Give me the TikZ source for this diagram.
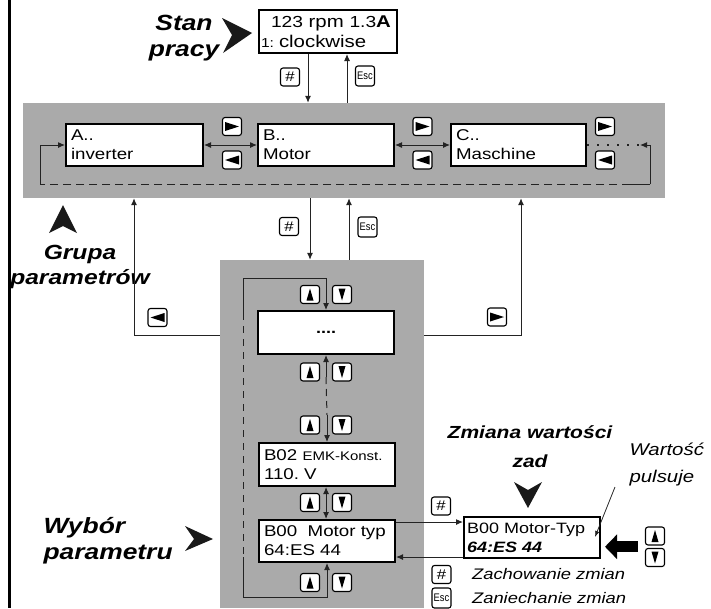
\documentclass[tikz,border=0pt]{standalone}
\usepackage{fontspec}
\setmainfont{Liberation Sans}[FakeStretch=1.2]
\newfontfamily\condfont{Liberation Sans}[FakeStretch=0.85]
\usetikzlibrary{arrows.meta,calc,positioning}

\definecolor{panelgray}{RGB}{170,170,170}
\definecolor{wiregray}{RGB}{35,35,35}
\newcommand{\fsz}[2]{\fontsize{#1}{#2}\selectfont}

\tikzset{
  lcd/.style={draw, line width=2pt, fill=white, inner xsep=5pt, inner ysep=0pt, align=left, font={\fsz{15.6}{19}}},
  panel/.style={fill=panelgray, inner sep=0pt},
  keybox/.style={draw, line width=1.1pt, rounded corners=2.5pt, fill=white, minimum width=19pt, minimum height=18pt, inner sep=0pt},
  keyup/.style={keybox, path picture={\fill[black, sharp corners] ($(path picture bounding box.center)+(0,-6)$) -- ++(3.5,12) -- ++(-7,0) -- cycle;}},
  keydown/.style={keybox, path picture={\fill[black, sharp corners] ($(path picture bounding box.center)+(0,6)$) -- ++(3.5,-12) -- ++(-7,0) -- cycle;}},
  keyright/.style={keybox, path picture={\fill[black, sharp corners] ($(path picture bounding box.center)+(7,0)$) -- ++(-14,-4.5) -- ++(0,9) -- cycle;}},
  keyleft/.style={keybox, path picture={\fill[black, sharp corners] ($(path picture bounding box.center)+(-7,0)$) -- ++(14,-4.5) -- ++(0,9) -- cycle;}},
  keyhash/.style={keybox, font={\fsz{14}{14}}},
  keyesc/.style={keybox, minimum height=20pt, font={\condfont\fsz{11}{11}}},
  wire/.style={draw=wiregray, line width=1pt},
  dashwire/.style={wire, dash pattern=on 8pt off 5pt},
  pointer/.style={fill=black!90},
  bigtitle/.style={font={\fsz{22}{26}\bfseries\itshape}, align=center},
  note/.style={font={\fsz{17}{27}\itshape}, align=left},
}

\begin{document}
\begin{tikzpicture}[x=1pt, y=-1pt, >={Latex[length=7pt,width=6pt]}]
  \useasboundingbox (0,0) rectangle (711,608);
  \draw[line width=3pt] (9,0) -- (9,608);

  % panels
  \node[panel, minimum width=642pt, minimum height=95pt] (band) at (344,150.5) {};
  \node[panel, minimum width=204pt, minimum height=348pt] (lower) at (322,434) {};

  % displays
  \node[lcd, font={\fsz{17}{20}}, inner xsep=2pt, text width=134pt, minimum height=43pt] (stan) at (328,31.5)
    {\hspace*{10pt}{\fsz{16}{20}123} rpm {\fsz{16}{20}1.3}\textbf{A}\\{\fsz{13}{20}1:}\hspace*{5pt}clockwise};
  \node[lcd, text width=127pt, minimum height=42pt] (grpA) at (134.5,145) {A..\\inverter};
  \node[lcd, text width=126pt, minimum height=42pt] (grpB) at (326,145) {B..\\Motor};
  \node[lcd, text width=125pt, minimum height=42pt] (grpC) at (518.5,145) {C..\\Maschine};
  \node[lcd, text width=126pt, minimum height=43pt, align=center, font={\fsz{15}{19}\bfseries}] (dots) at (326,332.5) {....};
  \node[lcd, text width=126pt, minimum height=43pt] (b02) at (327,464.5) {B02 {\fsz{12.5}{19}EMK-Konst.}\\110.\ V};
  \node[lcd, text width=126pt, minimum height=42pt] (b00) at (327,541) {B00\ \ Motor typ\\64:ES 44};
  \node[lcd, inner xsep=3pt, text width=130pt, minimum height=41pt, font={\fsz{15}{19}}] (edit) at (532,537.5)
    {B00 Motor-Typ\\\textbf{\textit{64:ES 44}}};

  % keys
  \node[keyhash] (hashTop) at (290,77) {\#};
  \node[keyesc] (escTop) at (365,76) {Esc};
  \node[keyright] (rgtAB) at (232,126.5) {};
  \node[keyleft] (lftAB) at (232,160) {};
  \node[keyright] (rgtBC) at (422.5,126.5) {};
  \node[keyleft] (lftBC) at (422.5,160) {};
  \node[keyright] (rgtC) at (605,126.5) {};
  \node[keyleft] (lftC) at (605,160) {};
  \node[keyhash] (hashMid) at (289,226.5) {\#};
  \node[keyesc] (escMid) at (367.5,227) {Esc};
  \node[keyleft] (lftSide) at (157.5,317.5) {};
  \node[keyright] (rgtSide) at (497,317) {};
  \node[keyup] (up1) at (310,294.5) {};   \node[keydown] (dn1) at (342,294.5) {};
  \node[keyup] (up2) at (310,372) {};     \node[keydown] (dn2) at (342,372) {};
  \node[keyup] (up3) at (310,425) {};     \node[keydown] (dn3) at (342,425) {};
  \node[keyup] (up4) at (310,502.5) {};   \node[keydown] (dn4) at (342,502.5) {};
  \node[keyup] (up5) at (310,582.5) {};   \node[keydown] (dn5) at (342,582.5) {};
  \node[keyhash] (hashEdit) at (441,506) {\#};
  \node[keyup] (upEdit) at (655,536) {};
  \node[keydown] (dnEdit) at (655,557.5) {};
  \node[keyhash] (hashSave) at (441.5,574.5) {\#};
  \node[keyesc] (escDrop) at (441.5,598) {Esc};

  % labels
  \node[bigtitle] (stanlbl) at (184,38) {Stan\\pracy};
  \node[bigtitle, font={\fsz{20.5}{25}\bfseries\itshape}] (grupalbl) at (80,267) {Grupa\\parametrów};
  \node[bigtitle, align=left, anchor=west] (wyborlbl) at (40,541) {Wybór\\parametru};
  \node[bigtitle, font={\fsz{17.5}{29}\bfseries\itshape}] (zmianalbl) at (530,447) {Zmiana wartości\\zad};
  \node[note, anchor=west] (wartlbl) at (626,464) {Wartość\\pulsuje};
  \node[note, font={\fsz{15.3}{20}\itshape}, right=17pt of hashSave] (zachlbl) {Zachowanie zmian};
  \node[note, font={\fsz{15.3}{20}\itshape}, right=17pt of escDrop] (zanlbl) {Zaniechanie zmian};

  % pointers
  \fill[pointer] (252,33) -- (222,18) -- (232,35) -- (223,53) -- cycle;
  \fill[pointer] (63,205) -- (77,233) -- (63,226) -- (49,233) -- cycle;
  \fill[pointer] (213,539) -- (185,526) -- (194,539) -- (185,551) -- cycle;
  \fill[pointer] (528,508) -- (542,482) -- (528,490) -- (514,482) -- cycle;

  % status <-> groups
  \coordinate (xa) at (308,0);
  \coordinate (xb) at (347,0);
  \draw[wire, ->] (stan.south -| xa) -- (band.north -| xa);
  \draw[wire, ->] (band.north -| xb) -- (stan.south -| xb);

  % group ring
  \draw[wire, <->] (grpA) -- (grpB);
  \draw[wire, <->] (grpB) -- (grpC);
  \coordinate (dotend) at (640,145);
  \coordinate (loopR) at (650,184);
  \coordinate (loopL) at (40,184);
  \draw[wire, line width=1.5pt, dash pattern=on 1.5pt off 8.5pt] (grpC) -- (dotend);
  \draw[wire, ->] (loopR) -- (loopR |- dotend) -- (dotend);
  \draw[wire] (loopR) -- ++(-20,0);
  \draw[dashwire] ($(loopR)+(-20,0)$) -- (loopL);
  \draw[wire, ->] (loopL) -- (loopL |- grpA) -- (grpA);

  % groups <-> parameters
  \coordinate (xc) at (310,0);
  \coordinate (xd) at (349,0);
  \draw[wire, ->] (band.south -| xc) -- (lower.north -| xc);
  \draw[wire, ->] (lower.north -| xd) -- (band.south -| xd);
  \coordinate (sl) at (134,335);
  \coordinate (sr) at (521,335);
  \draw[wire, ->] (lower.west |- sl) -- (sl) -- (sl |- band.south);
  \draw[wire, ->] (lower.east |- sr) -- (sr) -- (sr |- band.south);

  % parameter list
  \coordinate (lpTop) at (243,278);
  \coordinate (lpDash) at (243,313);
  \coordinate (lpEnd) at (243,557);
  \coordinate (lpBot) at (243,597);
  \draw[wire, ->] (lpDash) -- (lpTop) -- (lpTop -| dots.north) -- (dots.north);
  \draw[dashwire, dash pattern=on 7pt off 6pt] (lpDash) -- (lpEnd);
  \draw[wire, ->] (lpEnd) -- (lpBot) -- (lpBot -| b00.south) -- (b00.south);
  \draw[wire, ->] ($(dots.south)+(0,22)$) -- (dots.south);
  \draw[dashwire, dash pattern=on 7pt off 5pt] ($(dots.south)+(0,22)$) -- ($(b02.north)+(0,-27)$);
  \draw[wire, ->] ($(b02.north)+(0,-27)$) -- (b02.north);
  \draw[wire, <->] (b02.south -| up4.east) ++(6,0) -- ($(b00.north -| up4.east)+(6,0)$);

  % value edit
  \coordinate (hin) at (0,522);
  \coordinate (hout) at (0,557);
  \draw[wire, ->] (b00.east |- hin) -- (edit.west |- hin);
  \draw[wire, ->] (edit.west |- hout) -- (b00.east |- hout);
  \coordinate (pulsestart) at (615,487);
  \coordinate (pulsetip) at (595,537);
  \draw[wire, line width=0.8pt, -{Latex[length=6pt,width=4.5pt]}] (pulsestart) -- (pulsetip);
  \coordinate (udmid) at ($(upEdit.south west)!0.5!(dnEdit.north west)$);
  \draw[line width=11pt, -{Triangle[length=12pt,width=24pt]}] ($(udmid)+(-7,0)$) -- ($(edit.east |- udmid)+(4,0)$);
\end{tikzpicture}
\end{document}
